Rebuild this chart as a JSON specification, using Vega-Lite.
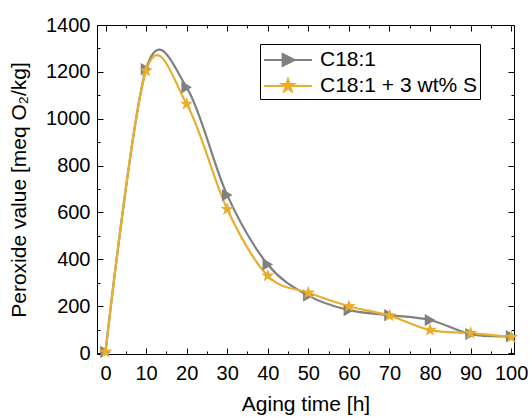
{
  "$schema": "https://vega.github.io/schema/vega-lite/v6.json",
  "width": 417,
  "height": 329,
  "autosize": {"type": "none"},
  "padding": {"left": 97, "top": 25, "right": 16, "bottom": 63},
  "background": "white",
  "config": {
    "view": {"stroke": "black", "strokeWidth": 1},
    "font": "Liberation Sans",
    "axis": {"labelFont": "Liberation Sans", "titleFont": "Liberation Sans", "labelColor": "black", "titleColor": "black", "titleFontWeight": "normal", "domainColor": "black", "tickColor": "black", "grid": false}
  },
  "data": {"values": [
    {"t": 0, "pv": 5, "s": "C18:1"},
    {"t": 10, "pv": 1212, "s": "C18:1"},
    {"t": 20, "pv": 1134, "s": "C18:1"},
    {"t": 30, "pv": 674, "s": "C18:1"},
    {"t": 40, "pv": 378, "s": "C18:1"},
    {"t": 50, "pv": 245, "s": "C18:1"},
    {"t": 60, "pv": 183, "s": "C18:1"},
    {"t": 70, "pv": 162, "s": "C18:1"},
    {"t": 80, "pv": 141, "s": "C18:1"},
    {"t": 90, "pv": 81, "s": "C18:1"},
    {"t": 100, "pv": 72, "s": "C18:1"},
    {"t": 0, "pv": 5, "s": "C18:1 + 3 wt% S"},
    {"t": 10, "pv": 1205, "s": "C18:1 + 3 wt% S"},
    {"t": 20, "pv": 1063, "s": "C18:1 + 3 wt% S"},
    {"t": 30, "pv": 614, "s": "C18:1 + 3 wt% S"},
    {"t": 40, "pv": 330, "s": "C18:1 + 3 wt% S"},
    {"t": 50, "pv": 257, "s": "C18:1 + 3 wt% S"},
    {"t": 60, "pv": 200, "s": "C18:1 + 3 wt% S"},
    {"t": 70, "pv": 160, "s": "C18:1 + 3 wt% S"},
    {"t": 80, "pv": 98, "s": "C18:1 + 3 wt% S"},
    {"t": 90, "pv": 85, "s": "C18:1 + 3 wt% S"},
    {"t": 100, "pv": 68, "s": "C18:1 + 3 wt% S"}
  ]},
  "resolve": {"axis": {"x": "independent", "y": "independent"}},
  "layer": [
    {
      "mark": {"type": "line", "interpolate": "cardinal", "strokeWidth": 2.2},
      "encoding": {
        "x": {"field": "t", "type": "quantitative",
          "scale": {"domain": [-2.1, 100.7], "nice": false, "zero": false},
          "axis": {"orient": "bottom", "title": "Aging time [h]", "titleFontSize": 21, "titlePadding": 7,
            "values": [0,5,10,15,20,25,30,35,40,45,50,55,60,65,70,75,80,85,90,95,100],
            "labelExpr": "datum.value % 10 == 0 ? datum.label : ''",
            "labelFontSize": 20, "labelPadding": 15, "labelFlush": false, "labelOverlap": false,
            "tickSize": {"condition": {"test": "datum.value % 10 == 0", "value": -6}, "value": -3}}},
        "y": {"field": "pv", "type": "quantitative",
          "scale": {"domain": [-4, 1400], "nice": false, "zero": false},
          "axis": {"orient": "left", "title": "Peroxide value [meq O₂/kg]", "titleFontSize": 21, "titlePadding": 16,
            "values": [0,100,200,300,400,500,600,700,800,900,1000,1100,1200,1300,1400],
            "labelExpr": "datum.value % 200 == 0 ? datum.label : ''",
            "format": "d",
            "labelFontSize": 20, "labelPadding": 13, "labelFlush": false, "labelOverlap": false,
            "tickSize": {"condition": {"test": "datum.value % 200 == 0", "value": -6}, "value": -3}}},
        "color": {"field": "s", "type": "nominal",
          "scale": {"domain": ["C18:1", "C18:1 + 3 wt% S"], "range": ["#808080", "#E9AE2C"]},
          "legend": {"orient": "none", "legendX": 163, "legendY": 19, "title": null,
            "strokeColor": "black", "fillColor": "white", "padding": 3, "cornerRadius": 0,
            "labelFont": "Liberation Sans", "labelFontSize": 21, "labelColor": "black",
            "symbolSize": 576, "symbolOffset": 12, "labelOffset": 19, "rowPadding": 3,
            "encode": {"symbols": {"update": {
              "shape": {"signal": "datum.value == 'C18:1' ? 'M-2,0L2,0M-0.45,-0.5L0.55,0L-0.45,0.5Z' : 'M-2,0L2,0M0,-0.55L0.129,-0.178L0.523,-0.17L0.209,0.068L0.323,0.445L0,0.22L-0.323,0.445L-0.209,0.068L-0.523,-0.17L-0.129,-0.178Z'"},
              "fill": {"signal": "datum.value == 'C18:1' ? '#808080' : '#E9AE2C'"},
              "stroke": {"signal": "datum.value == 'C18:1' ? '#808080' : '#E9AE2C'"},
              "strokeWidth": {"value": 2},
              "opacity": {"value": 1}
            }}}}}
      }
    },
    {
      "transform": [{"filter": "datum.s == 'C18:1'"}],
      "mark": {"type": "point", "shape": "triangle-right", "filled": true, "size": 150, "color": "#808080", "opacity": 1},
      "encoding": {
        "x": {"field": "t", "type": "quantitative",
          "axis": {"orient": "top", "title": null, "labels": false, "domain": false,
            "values": [0,5,10,15,20,25,30,35,40,45,50,55,60,65,70,75,80,85,90,95,100],
            "tickSize": {"condition": {"test": "datum.value % 10 == 0", "value": -6}, "value": -3}}},
        "y": {"field": "pv", "type": "quantitative",
          "axis": {"orient": "right", "title": null, "labels": false, "domain": false,
            "values": [0,100,200,300,400,500,600,700,800,900,1000,1100,1200,1300,1400],
            "tickSize": {"condition": {"test": "datum.value % 200 == 0", "value": -6}, "value": -3}}}
      }
    },
    {
      "transform": [{"filter": "datum.s != 'C18:1'"}],
      "mark": {"type": "point", "shape": "M0,-1L0.235,-0.324L0.951,-0.309L0.38,0.124L0.588,0.809L0,0.4L-0.588,0.809L-0.38,0.124L-0.951,-0.309L-0.235,-0.324Z", "filled": true, "size": 200, "color": "#E9AE2C", "opacity": 1},
      "encoding": {
        "x": {"field": "t", "type": "quantitative", "axis": null},
        "y": {"field": "pv", "type": "quantitative", "axis": null}
      }
    }
  ]
}
